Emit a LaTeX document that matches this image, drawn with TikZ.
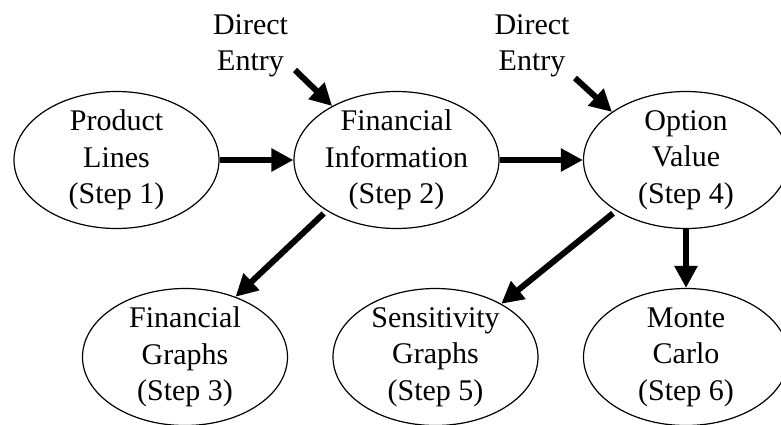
\documentclass[tikz,border=0pt]{standalone}
\usepackage{fontspec}
\setmainfont{Liberation Serif}
\usetikzlibrary{shapes.geometric,arrows.meta}

\begin{document}
\begin{tikzpicture}[x=0.5pt,y=-0.5pt,
        passo/.style={ellipse,draw,line width=0.6pt,minimum width=102.5pt,minimum height=68.5pt,inner sep=0pt},
        testo/.style={align=center,font=\fontsize{15}{18.3}\selectfont},
        freccia/.style={-{Triangle[length=11pt,width=11pt]},line width=3pt}]
        \useasboundingbox (0,0) rectangle (781,424);

        %%%%%%%%%% Nodi %%%%%%%%%%
        \node[passo,label={[testo]center:Product\\Lines\\(Step 1)}] (prodotti) at (116.5,160) {};
        \node[passo,label={[testo]center:Financial\\Information\\(Step 2)}] (finanza) at (396.5,160) {};
        \node[passo,label={[testo]center:Option\\Value\\(Step 4)}] (opzione) at (686,160) {};
        \node[passo,label={[testo]center:Financial\\Graphs\\(Step 3)}] (grafici) at (185,357) {};
        \node[passo,label={[testo]center:Sensitivity\\Graphs\\(Step 5)}] (sensibilita) at (435.5,357) {};
        \node[passo,label={[testo]center:Monte\\Carlo\\(Step 6)}] (montecarlo) at (686,357) {};
        \node[testo] (entrata1) at (250.5,46) {Direct\\Entry};
        \node[testo] (entrata2) at (532,46) {Direct\\Entry};
        \coordinate (inizio1) at (295,70);
        \coordinate (inizio2) at (575,78);

        %%%%%%%%% Frecce %%%%%%%%%
        \draw[freccia] (prodotti) -- (finanza);
        \draw[freccia] (finanza) -- (opzione);
        \draw[freccia] (inizio1) -- (finanza.140);
        \draw[freccia] (inizio2) -- (opzione.147);
        \draw[freccia,shorten <=2pt] (finanza.216) -- (grafici.50);
        \draw[freccia,shorten <=2pt] (opzione.216) -- (sensibilita.39);
        \draw[freccia] (opzione.south) -- (montecarlo.north);
    \end{tikzpicture}
\end{document}
